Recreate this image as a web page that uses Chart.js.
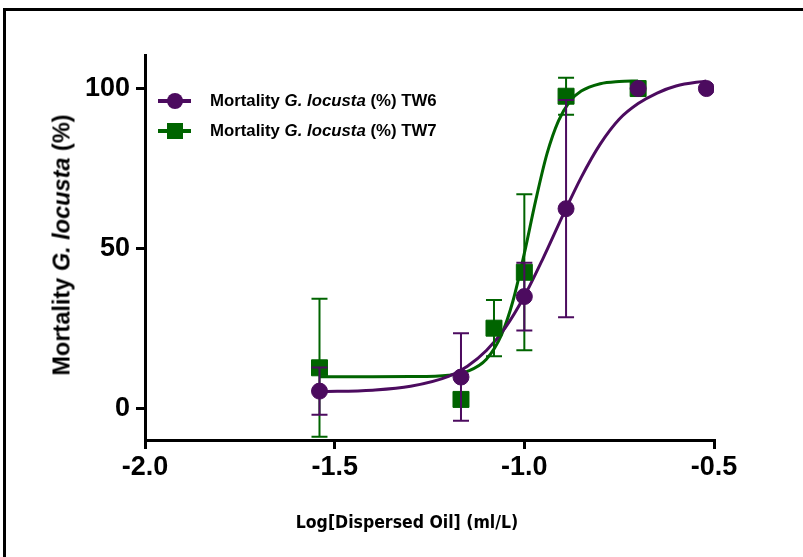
<!DOCTYPE html>
<html>
<head>
<meta charset="utf-8">
<script src="https://cdn.jsdelivr.net/npm/chart.js@4.4.1/dist/chart.umd.min.js"></script>
<style>
    html, body { margin: 0; padding: 0; background: #fff; overflow: hidden; }
    #wrap { position: relative; width: 803px; height: 557px; }
    #frame {
        position: absolute; left: 3px; top: 8px; width: 900px; height: 700px;
        border-left: 3px solid #000; border-top: 3px solid #000;
    }
    #chart { position: absolute; left: 0; top: 0; }
    .legend { position: absolute; left: 158px; font: bold 16.8px "Liberation Sans", Arial, sans-serif; color: #000; }
    .legend .row { position: absolute; left: 0; height: 20px; white-space: nowrap; }
    .legend .line { position: absolute; left: 0; top: 8px; width: 33px; height: 4px; }
    .legend .mk { position: absolute; left: 9px; top: 2px; width: 16px; height: 16px; }
    .legend .txt { position: absolute; left: 52px; top: 0; line-height: 20px; }
    #ytitle {
        position: absolute; left: 62px; top: 245px; white-space: nowrap;
        transform: translate(-50%, -50%) rotate(-90deg);
        font: bold 23.5px "Liberation Sans", Arial, sans-serif; color: #000;
    }
    #xtitle {
        position: absolute; left: 407px; top: 522px; white-space: nowrap;
        transform: translate(-50%, -50%);
        font: bold 17.5px "DejaVu Sans Condensed", sans-serif; color: #000;
    }
</style>
</head>
<body>
<div id="wrap">
    <div id="frame"></div>
    <canvas id="chart" width="803" height="557"></canvas>
    <div class="legend">
        <div class="row" style="top:91px">
            <span class="line" style="background:#4c0b5f"></span>
            <span class="mk" style="background:#4c0b5f;border-radius:50%"></span>
            <span class="txt">Mortality <i>G. locusta</i> (%) TW6</span>
        </div>
        <div class="row" style="top:121px">
            <span class="line" style="background:#006400"></span>
            <span class="mk" style="background:#006400"></span>
            <span class="txt">Mortality <i>G. locusta</i> (%) TW7</span>
        </div>
    </div>
    <div id="ytitle">Mortality <i>G. locusta</i> (%)</div>
    <div id="xtitle">Log[Dispersed Oil] (ml/L)</div>
</div>
<script>
// measured points (log concentration, % mortality, error)
const tw6X = [-1.54, -1.167, -1.0, -0.89, -0.70, -0.52];
const tw6Y = [5.3, 9.7, 34.9, 62.4, 100, 100];
const tw6Err = [7.4, 13.7, 10.6, 34, 0, 0];

const tw7X = [-1.54, -1.167, -1.08, -1.0, -0.89, -0.70];
const tw7Y = [12.6, 2.7, 25, 42.5, 97.6, 100];
const tw7Err = [21.6, 2, 8.8, 24.4, 5.8, 0];

// fitted curves
const fit6X = [-1.54, -1.4, -1.3, -1.2, -1.15, -1.1, -1.05, -1.0, -0.95, -0.9, -0.85, -0.8, -0.75, -0.7, -0.65, -0.6, -0.52];
const fit6Y = [5.1, 5.6, 6.8, 9.9, 13.1, 18.0, 25.2, 35.0, 47.0, 59.9, 72.2, 82.6, 90.4, 95.3, 98.6, 100.8, 102.4];

const fit7X = [-1.54, -1.4, -1.3, -1.2, -1.15, -1.1, -1.06, -1.03, -1.0, -0.97, -0.94, -0.91, -0.88, -0.85, -0.8, -0.75, -0.7];
const fit7Y = [9.8, 9.8, 9.85, 10.3, 11.5, 15.3, 23.0, 33.5, 48.4, 65.0, 79.7, 89.9, 96.0, 99.2, 101.5, 102.2, 102.4];

const xTicks = [-2.0, -1.5, -1.0, -0.5];
const yTicks = [0, 50, 100];

const PURPLE = '#4c0b5f';
const GREEN = '#006400';

const toPoints = (xs, ys) => xs.map((x, i) => ({ x, y: ys[i] }));

const errorBars = {
    id: 'errorBars',
    beforeDatasetDraw(chart, args) {
        const ds = chart.data.datasets[args.index];
        if (!ds.errors) return;
        const ctx = chart.ctx;
        const xs = chart.scales.x;
        const ys = chart.scales.y;
        ctx.save();
        ctx.strokeStyle = ds.borderColor;
        ctx.lineWidth = 2;
        ds.data.forEach((p, i) => {
            const e = ds.errors[i];
            if (!e) return;
            const px = xs.getPixelForValue(p.x);
            const top = ys.getPixelForValue(p.y + e);
            const bot = ys.getPixelForValue(p.y - e);
            ctx.beginPath();
            ctx.moveTo(px, top);
            ctx.lineTo(px, bot);
            ctx.moveTo(px - 8, top);
            ctx.lineTo(px + 8, top);
            ctx.moveTo(px - 8, bot);
            ctx.lineTo(px + 8, bot);
            ctx.stroke();
        });
        ctx.restore();
    }
};

const tickFont = { family: '"Liberation Sans", Arial, sans-serif', size: 27, weight: 'bold' };

new Chart(document.getElementById('chart').getContext('2d'), {
    type: 'scatter',
    data: {
        datasets: [
            {
                label: 'TW6',
                data: toPoints(tw6X, tw6Y),
                errors: tw6Err,
                showLine: false,
                pointStyle: 'circle',
                pointRadius: 8,
                pointBackgroundColor: PURPLE,
                pointBorderColor: PURPLE,
                borderColor: PURPLE,
                order: 1
            },
            {
                label: 'TW7',
                data: toPoints(tw7X, tw7Y),
                errors: tw7Err,
                showLine: false,
                pointStyle: 'rect',
                pointRadius: 11.3,
                pointBackgroundColor: GREEN,
                pointBorderColor: GREEN,
                borderColor: GREEN,
                order: 2
            },
            {
                label: 'fit TW6',
                data: toPoints(fit6X, fit6Y),
                showLine: true,
                pointRadius: 0,
                borderColor: PURPLE,
                borderWidth: 3,
                cubicInterpolationMode: 'monotone',
                order: 3
            },
            {
                label: 'fit TW7',
                data: toPoints(fit7X, fit7Y),
                showLine: true,
                pointRadius: 0,
                borderColor: GREEN,
                borderWidth: 3,
                cubicInterpolationMode: 'monotone',
                order: 4
            }
        ]
    },
    options: {
        responsive: false,
        animation: false,
        events: [],
        layout: { padding: { left: 0, top: 55, right: 89, bottom: 0 } },
        plugins: {
            legend: { display: false },
            tooltip: { enabled: false }
        },
        scales: {
            x: {
                type: 'linear',
                min: -2,
                max: -0.5,
                afterBuildTicks: s => { s.ticks = xTicks.map(v => ({ value: v })); },
                afterFit: s => { s.height = 117; },
                ticks: { color: '#000', font: tickFont, padding: 2, callback: v => v.toFixed(1) },
                grid: { drawOnChartArea: false, drawTicks: true, tickLength: 9, lineWidth: 3, color: '#000' },
                border: { width: 3, color: '#000' }
            },
            y: {
                type: 'linear',
                min: -10,
                max: 110.5,
                afterBuildTicks: s => { s.ticks = yTicks.map(v => ({ value: v })); },
                afterFit: s => { s.width = 145; },
                ticks: { color: '#000', font: tickFont, padding: 6 },
                grid: { drawOnChartArea: false, drawTicks: true, tickLength: 9, lineWidth: 3, color: '#000' },
                border: { width: 3, color: '#000' }
            }
        }
    },
    plugins: [errorBars]
});
</script>
</body>
</html>
